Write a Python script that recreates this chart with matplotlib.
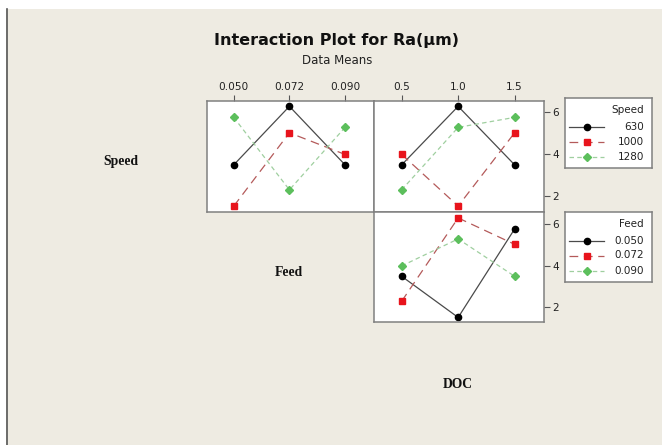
import matplotlib.pyplot as plt
from matplotlib.patches import Rectangle
from matplotlib.lines import Line2D

W, H = 662, 445

# factor levels
speed_levels = ['630', '1000', '1280']
feed_levels = ['0.050', '0.072', '0.090']
doc_levels = ['0.5', '1.0', '1.5']

# mean Ra for each Speed level, across Feed levels
ra_630_feed = [3.48, 6.29, 3.48]
ra_1000_feed = [1.50, 5.02, 3.98]
ra_1280_feed = [5.76, 2.28, 5.28]

# mean Ra for each Speed level, across DOC levels
ra_630_doc = [3.48, 6.29, 3.48]
ra_1000_doc = [3.98, 1.50, 5.02]
ra_1280_doc = [2.28, 5.28, 5.76]

# mean Ra for each Feed level, across DOC levels
ra_f050_doc = [3.48, 1.50, 5.76]
ra_f072_doc = [2.28, 6.29, 5.02]
ra_f090_doc = [3.98, 5.28, 3.48]

styles = [
    dict(color='#4a4a4a', ls='-', marker='o', mfc='black', mec='black', ms=4.5),
    dict(color='#b45a5a', ls=(0, (7, 4.5)), marker='s', mfc='#e8141c', mec='#e8141c', ms=4.5),
    dict(color='#9fcf9f', ls=(0, (3.6, 2.6)), marker='D', mfc='#5cbf5c', mec='#5cbf5c', ms=4.0),
]

frame = '#808080'
plt.rcParams['font.family'] = 'DejaVu Sans'

fig = plt.figure(figsize=(W / 100, H / 100), dpi=100, facecolor='white')

# beige page with dark left edge
fig.patches.append(Rectangle((6 / W, 0), 1, 1 - 9 / H, transform=fig.transFigure,
                             facecolor='#eeebe2', edgecolor='none', zorder=-2))
fig.lines.append(Line2D([6.5 / W, 6.5 / W], [0, 1 - 9 / H], transform=fig.transFigure,
                        color='#555555', lw=1.2, zorder=-1))


def px_axes(x1, y1, x2, y2):
    return fig.add_axes([x1 / W, 1 - y2 / H, (x2 - x1) / W, (y2 - y1) / H])


def panel(ax, series, ylim):
    for vals, st in zip(series, styles):
        ax.plot(range(len(vals)), vals, lw=0.9, **st)
    ax.set_xlim(-0.49, 2.52)
    ax.set_ylim(*ylim)
    ax.set_facecolor('white')
    for s in ax.spines.values():
        s.set_color(frame)
        s.set_linewidth(1.1)
    ax.tick_params(direction='out', length=4, width=0.8, color='#555555',
                   labelsize=7.6, pad=2, labelcolor='#222222')


ax1 = px_axes(206.5, 100.5, 374, 211.5)
panel(ax1, [ra_630_feed, ra_1000_feed, ra_1280_feed], (1.24, 6.57))
ax1.xaxis.tick_top()
ax1.set_xticks(range(3), feed_levels)
ax1.set_yticks([])

ax2 = px_axes(374, 100.5, 544, 211.5)
panel(ax2, [ra_630_doc, ra_1000_doc, ra_1280_doc], (1.24, 6.57))
ax2.xaxis.tick_top()
ax2.set_xticks(range(3), doc_levels)
ax2.yaxis.tick_right()
ax2.set_yticks([2, 4, 6])

ax3 = px_axes(374, 211.5, 544, 322)
panel(ax3, [ra_f050_doc, ra_f072_doc, ra_f090_doc], (1.28, 6.6))
ax3.set_xticks([])
ax3.yaxis.tick_right()
ax3.set_yticks([2, 4, 6])


def legend_box(x1, y1, title, labels):
    lg = px_axes(x1, y1, x1 + 87, y1 + 70)
    lg.set_xlim(0, 87)
    lg.set_ylim(70, 0)
    lg.set_xticks([])
    lg.set_yticks([])
    lg.set_facecolor('white')
    for s in lg.spines.values():
        s.set_color(frame)
        s.set_linewidth(1.1)
    lg.text(79, 12, title, ha='right', va='center', fontsize=7.5, color='#222222')
    for i, (lab, st) in enumerate(zip(labels, styles)):
        y = 29 + 15 * i
        lg.plot([4, 39], [y, y], lw=0.9, color=st['color'], ls=st['ls'])
        lg.plot([21.5], [y], ls='none', marker=st['marker'], mfc=st['mfc'],
                mec=st['mec'], ms=st['ms'])
        lg.text(79, y, lab, ha='right', va='center', fontsize=7.5, color='#222222')


legend_box(565, 98, 'Speed', speed_levels)
legend_box(565, 211.5, 'Feed', feed_levels)

fig.text(336 / W, 1 - 41 / H, 'Interaction Plot for Ra(μm)', ha='center', va='center',
         fontsize=11.5, fontweight='bold', color='#111111')
fig.text(337 / W, 1 - 61 / H, 'Data Means', ha='center', va='center',
         fontsize=8.5, color='#222222')

for label, x, y in [('Speed', 121, 162), ('Feed', 289, 273), ('DOC', 458, 385)]:
    fig.text(x / W, 1 - y / H, label, ha='center', va='center', fontsize=9.8,
             fontweight='bold', family='Liberation Serif', color='#111111')

fig.savefig('out.png', dpi=100, facecolor=fig.get_facecolor())
